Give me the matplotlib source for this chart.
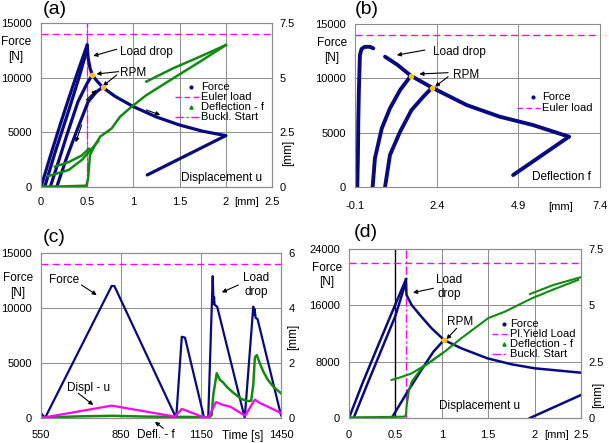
import matplotlib.pyplot as plt
from matplotlib.lines import Line2D

plt.rcParams['font.family'] = ['Liberation Sans', 'DejaVu Sans']

W, H = 609, 443
NAVY = '#0a0a80'
GREEN = '#118a11'
MAG = '#ff00ff'
GOLD = '#ffc000'
GRAY = '#8c8c8c'

# --- (a) force / deflection vs displacement u ---
a_u_load1 = [0, 0.1, 0.2, 0.3, 0.4, 0.5]
a_F_load1 = [0, 2800, 5500, 8100, 10600, 13000]
a_u_load1b = [0.04, 0.15, 0.3, 0.4, 0.49]
a_F_load1b = [0, 3100, 7000, 9700, 12300]
a_u_drop = [0.5, 0.51, 0.53, 0.555, 0.6, 0.667, 0.8, 1.0, 1.25, 1.5, 1.75, 2.0]
a_F_drop = [13000, 11800, 10900, 10250, 9750, 9120, 8300, 7350, 6400, 5670, 5100, 4700]
a_u_unload = [2.0, 1.15]
a_F_unload = [4700, 1100]
a_u_load2 = [0.1, 0.2, 0.28, 0.4, 0.5, 0.555]
a_F_load2 = [0, 2600, 4760, 7800, 9500, 10250]
a_u_load3 = [0.17, 0.27, 0.37, 0.51, 0.6, 0.667]
a_F_load3 = [0, 2500, 4760, 7800, 8700, 9120]
a_rpm_u = [0.555, 0.667]
a_rpm_F = [10250, 9120]
a_u_defl = [0, 0.25, 0.49, 0.5, 0.51, 0.53, 0.585, 0.64, 0.765, 0.855, 0.98, 1.14, 1.43, 1.72, 2.0]
a_f_defl = [0.02, 0.03, 0.06, 0.2, 0.4, 1.46, 1.92, 2.3, 2.68, 3.21, 3.67, 4.2, 4.97, 5.73, 6.49]
a_u_defl_A = [0.08, 0.3, 0.44, 0.55, 0.62]
a_f_defl_A = [0.5, 0.78, 1.23, 1.75, 2.1]
a_u_defl_B = [0.15, 0.3, 0.44, 0.52]
a_f_defl_B = [0.93, 1.14, 1.44, 1.75]
a_u_defl_C = [1.14, 1.43, 1.72, 2.0]
a_f_defl_C = [4.82, 5.43, 5.96, 6.49]

# --- (b) force vs deflection f ---
b_f_load1 = [-0.03, -0.01, 0.0, 0.02, 0.04, 0.05, 0.1, 0.2, 0.36, 0.46]
b_F_load1 = [0, 3000, 6000, 9000, 11000, 12140, 12700, 12900, 12900, 12760]
b_f_drop = [0.82, 1.2, 1.61, 2.26, 3.32, 4.33, 5.35, 6.45]
b_F_drop = [11990, 11240, 10240, 9140, 7540, 6470, 5700, 4630]
b_f_unload = [6.45, 4.74]
b_F_unload = [4630, 1100]
b_f_load2 = [0.44, 0.51, 0.72, 0.97, 1.28, 1.61]
b_F_load2 = [0, 2640, 5400, 7240, 8920, 10240]
b_f_load3 = [0.82, 0.97, 1.28, 1.63, 1.99, 2.26]
b_F_load3 = [0, 2940, 5090, 7080, 8310, 9140]
b_rpm_f = [1.61, 2.26]
b_rpm_F = [10240, 9140]

# --- (c) time history ---
c_t_force = [550, 565, 815, 825, 1057, 1078, 1090, 1162, 1177, 1194, 1197, 1199, 1201, 1211,
             1314, 1346, 1349, 1351, 1355, 1362, 1450]
c_force = [450, 0, 12000, 12000, 0, 7390, 7300, 0, 0, 12900, 10400, 11000, 10300, 10100,
           0, 10120, 9400, 9900, 9100, 9000, 250]
c_t_u = [550, 815, 1052, 1078, 1153, 1177, 1206, 1225, 1262, 1315, 1352, 1370, 1392, 1450]
c_u = [0, 0.45, 0.05, 0.33, 0.05, 0.0, 0.58, 0.5, 0.4, 0.08, 0.67, 0.55, 0.45, 0.18]
c_t_f = [550, 700, 820, 950, 1100, 1180, 1190, 1196, 1200, 1209, 1220, 1234, 1250, 1271, 1300,
         1321, 1338, 1346, 1352, 1359, 1370, 1384, 1400, 1421, 1450]
c_f = [0.02, 0.06, 0.08, 0.05, 0.04, 0.02, 0.1, 0.84, 1.08, 1.63, 1.4, 1.28, 1.1, 0.92, 0.7,
       0.62, 0.62, 1.2, 2.2, 2.29, 2.0, 1.68, 1.4, 1.14, 0.9]

# --- (d) force / deflection vs displacement u ---
d_u_load1 = [0, 0.15, 0.316, 0.46, 0.614]
d_F_load1 = [0, 5100, 10370, 14900, 19700]
d_u_load1b = [0.05, 0.2, 0.35, 0.5, 0.61]
d_F_load1b = [0, 4900, 9700, 14500, 19200]
d_u_drop = [0.614, 0.617, 0.62, 0.675, 0.78, 0.89, 1.024, 1.21, 1.49, 1.75, 2.0, 2.5]
d_F_drop = [19700, 18200, 17470, 16050, 14390, 12740, 11080, 9900, 8480, 7630, 7060, 6430]
d_u_load2 = [0.46, 0.62, 0.78, 0.91, 1.024]
d_F_load2 = [0, 3500, 6820, 9420, 11080]
d_u_unload = [1.95, 2.5]
d_F_unload = [0, 3270]
d_rpm_u = [1.024]
d_rpm_F = [11080]
d_u_defl = [0, 0.3, 0.6, 0.614, 0.62, 0.643, 0.675, 0.78, 0.927, 1.03, 1.21, 1.5, 1.68, 1.97, 2.2, 2.47]
d_f_defl = [0.03, 0.04, 0.06, 0.15, 0.5, 1.17, 1.61, 2.2, 2.65, 2.94, 3.54, 4.43, 4.72, 5.31, 5.7, 6.13]
d_u_defl_B = [0.46, 0.55, 0.675, 0.855, 1.0]
d_f_defl_B = [1.69, 1.8, 1.98, 2.43, 2.85]
d_u_defl_C = [1.95, 2.2, 2.5]
d_f_defl_C = [5.5, 5.9, 6.25]

EULER = 14000
PL_YIELD = 22000


def box(l, t, r, b):
    return [l / W, 1 - b / H, (r - l) / W, (b - t) / H]


def fx(px):
    return px / W


def fy(py):
    return 1 - py / H


def style(ax, xlim, ylim, xticks, yticks, xlabels, ypad, xpad):
    ax.set_xlim(*xlim)
    ax.set_ylim(*ylim)
    ax.set_xticks(xticks)
    ax.set_xticklabels(xlabels)
    ax.set_yticks(yticks)
    ax.set_yticklabels([str(v) for v in yticks])
    ax.grid(True, color=GRAY, lw=0.7)
    ax.set_axisbelow(True)
    ax.tick_params(axis='y', length=0, labelsize=8, pad=ypad)
    ax.tick_params(axis='x', length=0, labelsize=8, pad=xpad)
    for s in ax.spines.values():
        s.set_color(GRAY)


def right_axis(ax, ylim, ticks, labels):
    ax2 = ax.twinx()
    ax2.set_ylim(*ylim)
    ax2.set_yticks(ticks)
    ax2.set_yticklabels(labels)
    ax2.tick_params(length=0, labelsize=8, pad=5.5)
    for s in ax2.spines.values():
        s.set_color(GRAY)
    return ax2


def arrow(ax, xy, xytext, text='', **kw):
    ax.annotate(text, xy=xy, xytext=xytext, fontsize=8.5,
                arrowprops=dict(arrowstyle='-|>', color='black', lw=0.8, mutation_scale=6,
                                shrinkA=0, shrinkB=0),
                annotation_clip=False, **kw)


def legend(entries, x0, x1, tx, ys):
    # hand-placed legend rows, tight like the original
    for (kind, color, label), y in zip(entries, ys):
        if kind == 'dot':
            fig.add_artist(Line2D([fx((x0 + x1) / 2 + 4)], [fy(y)], marker='o', ms=2,
                                  color=color, ls='none'))
        elif kind == 'tri':
            fig.add_artist(Line2D([fx((x0 + x1) / 2 + 4)], [fy(y)], marker='^', ms=2.3,
                                  color=color, ls='none'))
        elif kind == 'dash':
            fig.add_artist(Line2D([fx(x0), fx(x1)], [fy(y), fy(y)], color=color, lw=1,
                                  dashes=(4, 2.5)))
        else:
            fig.add_artist(Line2D([fx(x0), fx(x1)], [fy(y), fy(y)], color=color, lw=1,
                                  dashes=(6, 2, 1.5, 2)))
        fig.text(fx(tx), fy(y), label, va='center', ha='left', fontsize=8)


def force_label(cx, y1, y2):
    fig.text(fx(cx), fy(y1), 'Force', ha='center', va='center', fontsize=8.5)
    fig.text(fx(cx), fy(y2), '[N]', ha='center', va='center', fontsize=8.5)


fig = plt.figure(figsize=(W / 100, H / 100), dpi=100)

# ================= (a) =================
ax = fig.add_axes(box(41, 23, 272, 187))
style(ax, (0, 2.5), (0, 15000), [0, 0.5, 1, 1.5, 2, 2.5], [0, 5000, 10000, 15000],
      ['0', '0.5', '1', '1.5', '2', '2.5'], 6.5, 7)
ax.axhline(EULER, color=MAG, lw=1, dashes=(5, 3))
ax.axvline(0.5, color=MAG, lw=1, dashes=(6, 2, 1.5, 2))
for u, F in [(a_u_load1, a_F_load1), (a_u_load1b, a_F_load1b), (a_u_drop, a_F_drop),
             (a_u_unload, a_F_unload), (a_u_load2, a_F_load2), (a_u_load3, a_F_load3)]:
    ax.plot(u, F, color=NAVY, lw=2.3, solid_capstyle='round')
arrow(ax, (0.566, 11990), (0.82, 12600))
ax.text(0.86, 12320, 'Load drop', fontsize=8.5, va='center')
ax.text(0.86, 10450, 'RPM', fontsize=8.5, va='center')
arrow(ax, (0.60, 10340), (0.84, 10550))
arrow(ax, (0.67, 9240), (0.82, 10250))
arrow(ax, (0.60, 8870), (0.49, 7960))
arrow(ax, (0.375, 4090), (0.44, 5670))
arrow(ax, (1.29, 6590), (1.14, 7045))
ax.text(1.52, 850, 'Displacement u', fontsize=8.5, va='center')
ax2 = right_axis(ax, (0, 7.5), [0, 2.5, 5, 7.5], ['0', '2.5', '5', '7.5'])
for u, f in [(a_u_defl, a_f_defl), (a_u_defl_A, a_f_defl_A), (a_u_defl_B, a_f_defl_B),
             (a_u_defl_C, a_f_defl_C)]:
    ax2.plot(u, f, color=GREEN, lw=1.8)
ax2.plot(a_rpm_u, [F * 7.5 / 15000 for F in a_rpm_F], 'o', color=GOLD, ms=3, mec=GOLD)
legend([('dot', NAVY, 'Force'), ('dash', MAG, 'Euler load'),
        ('tri', GREEN, 'Deflection - f'), ('dashdot', MAG, 'Buckl. Start')],
       175, 199, 201, [87, 97, 107, 117])
force_label(16, 42, 57)
fig.text(fx(288), fy(153), '[mm]', rotation=90, ha='center', va='center', fontsize=8.5)
fig.text(fx(247), fy(202), '[mm]', ha='center', va='center', fontsize=8)
fig.text(fx(55), fy(9), '(a)', ha='center', va='center', fontsize=14)

# ================= (b) =================
ax = fig.add_axes(box(355, 24, 600, 187))
style(ax, (-0.1, 7.4), (0, 15000), [-0.1, 2.4, 4.9, 7.4], [0, 5000, 10000, 15000],
      ['-0.1', '2.4', '4.9', '7.4'], 6.5, 10)
ax.axhline(EULER, color=MAG, lw=1, dashes=(5, 3))
for f, F in [(b_f_load1, b_F_load1), (b_f_drop, b_F_drop), (b_f_unload, b_F_unload),
             (b_f_load2, b_F_load2), (b_f_load3, b_F_load3)]:
    ax.plot(f, F, color=NAVY, lw=2.8, solid_capstyle='round')
ax.plot(b_rpm_f, b_rpm_F, 'o', color=GOLD, ms=3, mec=GOLD)
ax.text(2.3, 12450, 'Load drop', fontsize=8.5, va='center')
arrow(ax, (1.18, 12140), (2.04, 12600))
ax.text(2.9, 10350, 'RPM', fontsize=8.5, va='center')
arrow(ax, (1.87, 10400), (2.75, 10520))
arrow(ax, (2.35, 9230), (2.75, 10150))
ax.text(5.31, 950, 'Deflection f', fontsize=8.5, va='center')
legend([('dot', NAVY, 'Force'), ('dash', MAG, 'Euler load')],
       517, 540, 542, [97, 108])
force_label(332, 43, 58)
fig.text(fx(561), fy(207), '[mm]', ha='center', va='center', fontsize=8)
fig.text(fx(367), fy(9), '(b)', ha='center', va='center', fontsize=14)

# ================= (c) =================
ax = fig.add_axes(box(41, 253, 281, 418))
style(ax, (550, 1450), (0, 15000), [550, 850, 1150, 1450], [0, 5000, 10000, 15000],
      ['550', '850', '1150', '1450'], 6.5, 9)
ax.axhline(EULER, color=MAG, lw=1, dashes=(5, 3))
ax.plot(c_t_force, c_force, color=NAVY, lw=1.6)
ax.text(636, 12540, 'Force', fontsize=8.5, ha='center', va='center')
arrow(ax, (759, 11180), (702, 12090))
ax.text(1356, 12090, 'Load\ndrop', fontsize=8.5, ha='center', va='center', linespacing=1.3)
arrow(ax, (1228, 11420), (1290, 12090))
ax.text(727, 2750, 'Displ - u', fontsize=8.5, ha='center', va='center')
arrow(ax, (746, 1180), (690, 2245))
arrow(ax, (977, -340), (1009, -940))
ax2 = right_axis(ax, (0, 6), [0, 2, 4, 6], ['0', '2', '4', '6'])
ax2.plot(c_t_f, c_f, color=GREEN, lw=1.8)
ax2.plot(c_t_u, c_u, color=MAG, lw=1.6)
fig.text(fx(156), fy(435.5), 'Defl. - f', ha='center', va='center', fontsize=8.5)
fig.text(fx(243), fy(435.5), 'Time [s]', ha='center', va='center', fontsize=8.5)
force_label(18, 278, 293)
fig.text(fx(293), fy(337), '[mm]', rotation=90, ha='center', va='center', fontsize=8.5)
fig.text(fx(54), fy(238), '(c)', ha='center', va='center', fontsize=14)

# ================= (d) =================
ax = fig.add_axes(box(349, 249, 581, 418))
style(ax, (0, 2.5), (0, 24000), [0, 0.5, 1, 1.5, 2, 2.5], [0, 8000, 16000, 24000],
      ['0', '0.5', '1', '1.5', '2', '2.5'], 6.5, 9)
ax.axvline(0.5, color='black', lw=1)
ax.axhline(PL_YIELD, color=MAG, lw=1, dashes=(5, 3))
ax.axvline(0.614, color=MAG, lw=1, dashes=(6, 2, 1.5, 2))
for u, F in [(d_u_load1, d_F_load1), (d_u_load1b, d_F_load1b), (d_u_drop, d_F_drop),
             (d_u_load2, d_F_load2), (d_u_unload, d_F_unload)]:
    ax.plot(u, F, color=NAVY, lw=1.8)
ax.text(1.078, 18600, 'Load\ndrop', fontsize=8.5, ha='center', va='center', linespacing=1.3)
arrow(ax, (0.69, 17800), (0.91, 18420))
ax.text(1.2, 13590, 'RPM', fontsize=8.5, ha='center', va='center')
arrow(ax, (1.05, 11180), (1.16, 12740))
ax.text(0.97, 1700, 'Displacement u', fontsize=8.5, va='center')
ax2 = right_axis(ax, (0, 7.5), [0, 2.5, 5, 7.5], ['0', '2.5', '5', '7.5'])
for u, f in [(d_u_defl, d_f_defl), (d_u_defl_B, d_f_defl_B), (d_u_defl_C, d_f_defl_C)]:
    ax2.plot(u, f, color=GREEN, lw=1.5)
ax2.plot(d_rpm_u, [F * 7.5 / 24000 for F in d_rpm_F], 'o', color=GOLD, ms=3, mec=GOLD)
legend([('dot', NAVY, 'Force'), ('dash', MAG, 'Pl.Yield Load'),
        ('tri', GREEN, 'Deflection - f'), ('dashdot', MAG, 'Buckl. Start')],
       492, 508, 510, [324, 334, 344, 354])
force_label(327, 268, 282)
fig.text(fx(598), fy(395), '[mm]', rotation=90, ha='center', va='center', fontsize=8.5)
fig.text(fx(557), fy(435), '[mm]', ha='center', va='center', fontsize=8)
fig.text(fx(366), fy(233), '(d)', ha='center', va='center', fontsize=14)

fig.savefig('out.png', dpi=100)
